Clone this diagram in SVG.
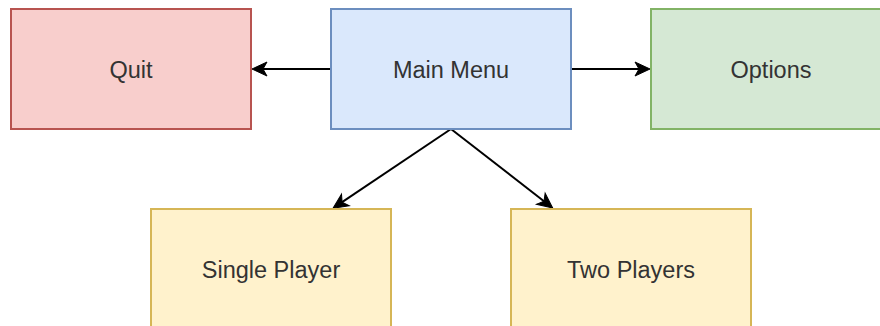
<svg xmlns="http://www.w3.org/2000/svg" width="880" height="326" viewBox="0 0 880 326">
<defs>
<style>
.box{stroke-width:2}
.red{fill:#f8cecc;stroke:#b85450}
.blue{fill:#dae8fc;stroke:#6c8ebf}
.green{fill:#d5e8d4;stroke:#82b366}
.yellow{fill:#fff2cc;stroke:#d6b656}
.lbl{font-family:"Liberation Sans",Arial,Helvetica,sans-serif;font-size:23.5px;fill:#333333;text-anchor:middle}
.edge{stroke:#000;stroke-width:2;fill:none}
</style>
<marker id="arr" markerUnits="userSpaceOnUse" markerWidth="40" markerHeight="40" refX="0" refY="0" orient="auto" overflow="visible" viewBox="-20 -20 40 40">
<path d="M11,0 L-4,-7 L0,0 L-4,7 Z" fill="#000" stroke="#000" stroke-width="1" stroke-linejoin="miter"/>
</marker>
</defs>
<rect width="880" height="326" fill="#ffffff"/>
<g id="connectors">
<line class="edge" x1="331" y1="69" x2="263" y2="69" marker-end="url(#arr)"/>
<line class="edge" x1="571" y1="69" x2="639" y2="69" marker-end="url(#arr)"/>
<line class="edge" x1="451" y1="129" x2="342.1" y2="202.2" marker-end="url(#arr)"/>
<line class="edge" x1="451" y1="129" x2="544" y2="201.2" marker-end="url(#arr)"/>
</g>
<g id="quit">
<rect class="box red" x="11" y="9" width="240" height="120"/>
<text class="lbl" x="131" y="77.5">Quit</text>
</g>
<g id="main-menu">
<rect class="box blue" x="331" y="9" width="240" height="120"/>
<text class="lbl" x="451" y="77.5">Main Menu</text>
</g>
<g id="options">
<rect class="box green" x="651" y="9" width="240" height="120"/>
<text class="lbl" x="771" y="77.5">Options</text>
</g>
<g id="single-player">
<rect class="box yellow" x="151" y="209" width="240" height="120"/>
<text class="lbl" x="271" y="277.5">Single Player</text>
</g>
<g id="two-players">
<rect class="box yellow" x="511" y="209" width="240" height="120"/>
<text class="lbl" x="631" y="277.5">Two Players</text>
</g>
</svg>
